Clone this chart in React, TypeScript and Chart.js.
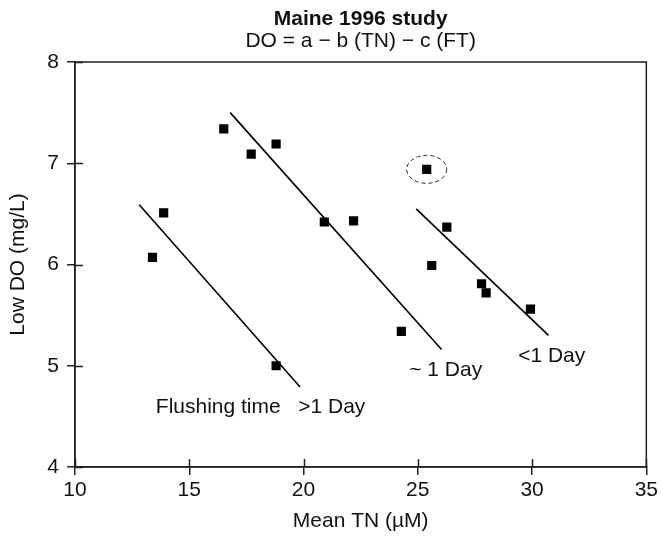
import { useEffect, useRef } from "react";
import { Chart, registerables } from "chart.js";

Chart.register(...registerables);

// ---- data ----
const obsTN = [13.39, 13.88, 16.51, 17.71, 18.8, 18.8, 20.91, 22.19, 24.28, 25.61, 26.27, 27.79, 27.99, 29.93];
const obsDO = [6.07, 6.51, 7.34, 7.09, 7.19, 5.0, 6.42, 6.43, 5.34, 5.99, 6.37, 5.81, 5.72, 5.56];
const outlierTN = [25.39];
const outlierDO = [6.94];
const fitLongTN = [12.81, 19.85];
const fitLongDO = [6.59, 4.79];
const fitOneTN = [16.79, 26.04];
const fitOneDO = [7.5, 5.16];
const fitShortTN = [24.93, 30.72];
const fitShortDO = [6.55, 5.3];
const xTicks = [10, 15, 20, 25, 30, 35];
const yTicks = [4, 5, 6, 7, 8];

const titleText = "Maine 1996 study";
const subtitleText = "DO = a \u2212 b (TN) \u2212 c (FT)";
const xTitle = "Mean TN (\u00b5M)";
const yTitle = "Low DO (mg/L)";
const noteTexts = ["Flushing time   >1 Day", "~ 1 Day", "<1 Day"];
const noteTN = [18.12, 26.22, 30.86];
const noteDO = [4.59, 4.96, 5.09];

const FONT = "'Liberation Sans', Arial, Helvetica, sans-serif";
const INK = "#111";
const FS = 21;

const pts = (xs: number[], ys: number[]) => xs.map((x, i) => ({ x, y: ys[i] }));

const decorPlugin = {
  id: "decor",
  afterDraw(chart: any) {
    const { ctx, chartArea: a, scales } = chart;
    const xs = scales.x;
    const ys = scales.y;
    ctx.save();
    // frame
    ctx.strokeStyle = "#222";
    ctx.lineWidth = 1.5;
    ctx.strokeRect(a.left, a.top, a.right - a.left, a.bottom - a.top);
    // inner halves of ticks
    ctx.beginPath();
    xTicks.forEach((v) => {
      const px = Math.round(xs.getPixelForValue(v)) + 0.5;
      ctx.moveTo(px, a.bottom);
      ctx.lineTo(px, a.bottom - 8);
    });
    yTicks.forEach((v) => {
      const py = Math.round(ys.getPixelForValue(v)) + 0.5;
      ctx.moveTo(a.left, py);
      ctx.lineTo(a.left + 8, py);
    });
    ctx.stroke();

    // dashed ellipse round the outlier
    const cx = xs.getPixelForValue(outlierTN[0]);
    const cy = ys.getPixelForValue(outlierDO[0]);
    ctx.setLineDash([4, 3]);
    ctx.lineWidth = 1;
    ctx.beginPath();
    ctx.ellipse(cx, cy, 20, 14, 0, 0, Math.PI * 2);
    ctx.stroke();
    ctx.setLineDash([]);

    // texts
    ctx.fillStyle = INK;
    ctx.textAlign = "center";
    ctx.textBaseline = "middle";
    const midX = (a.left + a.right) / 2;
    ctx.font = `bold ${FS}px ${FONT}`;
    ctx.fillText(titleText, midX, 19);
    ctx.font = `${FS}px ${FONT}`;
    ctx.fillText(subtitleText, midX, 41);
    ctx.fillText(xTitle, midX, 521);
    noteTexts.forEach((t, i) => {
      ctx.fillText(t, xs.getPixelForValue(noteTN[i]), ys.getPixelForValue(noteDO[i]));
    });
    ctx.save();
    ctx.translate(18, (a.top + a.bottom) / 2);
    ctx.rotate(-Math.PI / 2);
    ctx.fillText(yTitle, 0, 0);
    ctx.restore();
    ctx.restore();
  },
};

export default function App() {
  const ref = useRef<HTMLCanvasElement | null>(null);

  useEffect(() => {
    document.body.style.margin = "0";
    const canvas = ref.current;
    if (!canvas) return;
    const chart = new Chart(canvas, {
      type: "scatter",
      data: {
        datasets: [
          {
            data: pts(obsTN, obsDO),
            pointStyle: "rect",
            pointRadius: 6.5,
            backgroundColor: "#000",
            borderColor: "#000",
            borderWidth: 0,
          },
          {
            data: pts(outlierTN, outlierDO),
            pointStyle: "rect",
            pointRadius: 6.5,
            backgroundColor: "#000",
            borderColor: "#000",
            borderWidth: 0,
          },
          { data: pts(fitLongTN, fitLongDO), showLine: true, pointRadius: 0, borderColor: "#000", borderWidth: 1.6 },
          { data: pts(fitOneTN, fitOneDO), showLine: true, pointRadius: 0, borderColor: "#000", borderWidth: 1.6 },
          { data: pts(fitShortTN, fitShortDO), showLine: true, pointRadius: 0, borderColor: "#000", borderWidth: 1.6 },
        ],
      },
      options: {
        animation: false,
        responsive: false,
        events: [],
        layout: { padding: { top: 62, right: 13, left: 0, bottom: 0 } },
        plugins: { legend: { display: false }, tooltip: { enabled: false }, title: { display: false } },
        scales: {
          x: {
            type: "linear",
            min: 10,
            max: 35,
            afterFit: (s: any) => {
              s.height = 69;
            },
            afterBuildTicks: (s: any) => {
              s.ticks = xTicks.map((v) => ({ value: v }));
            },
            ticks: { color: INK, font: { family: FONT, size: FS }, padding: 3, maxRotation: 0 },
            grid: { drawOnChartArea: false, tickLength: 8, color: "#222", lineWidth: 1.5 },
            border: { display: true, color: "#222", width: 1.5 },
          },
          y: {
            type: "linear",
            min: 4,
            max: 8,
            afterFit: (s: any) => {
              s.width = 75;
            },
            afterBuildTicks: (s: any) => {
              s.ticks = yTicks.map((v) => ({ value: v }));
            },
            ticks: { color: INK, font: { family: FONT, size: FS }, padding: 8 },
            grid: { drawOnChartArea: false, tickLength: 8, color: "#222", lineWidth: 1.5 },
            border: { display: true, color: "#222", width: 1.5 },
          },
        },
      },
      plugins: [decorPlugin],
    });
    return () => chart.destroy();
  }, []);

  return <canvas ref={ref} width={661} height={536} style={{ display: "block" }} />;
}
